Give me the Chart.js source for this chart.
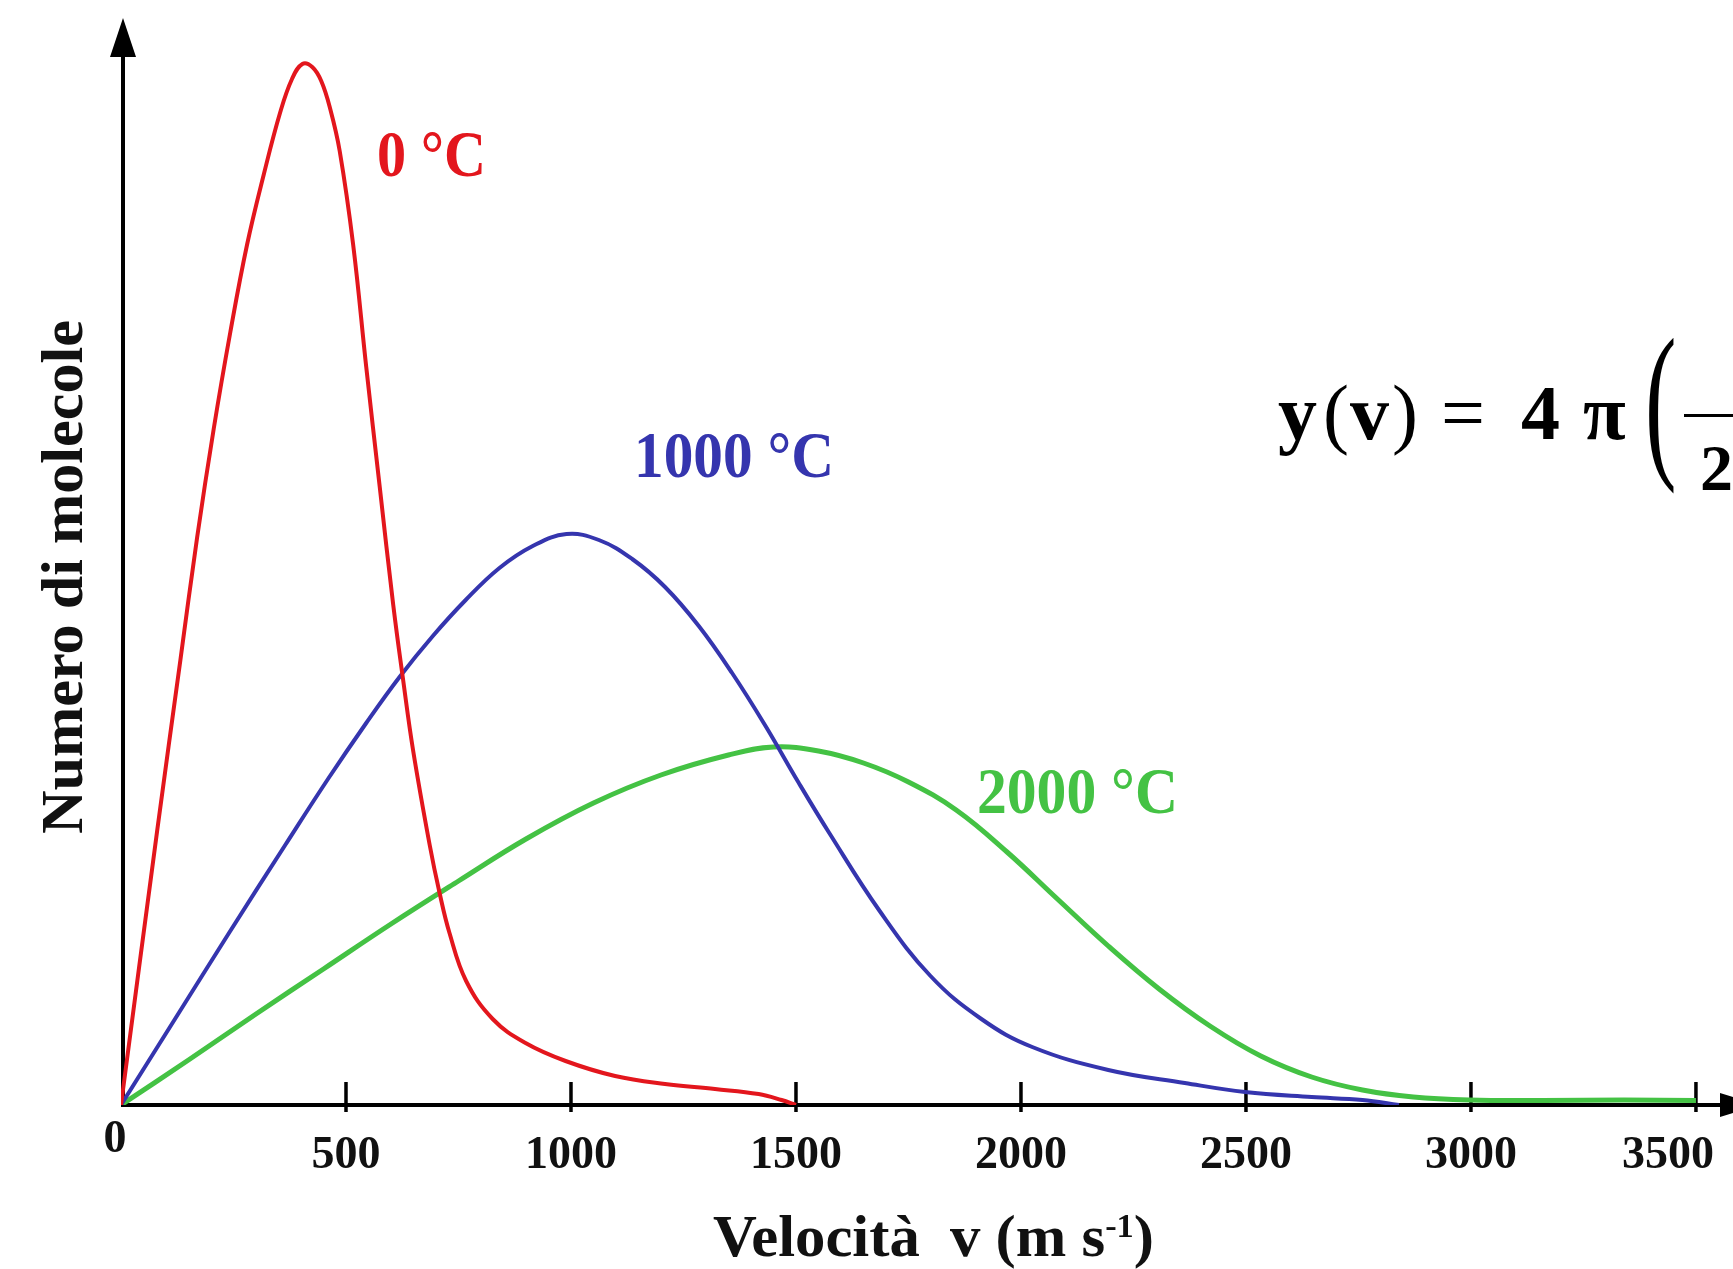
<!DOCTYPE html>
<html>
<head>
<meta charset="utf-8">
<script src="https://cdn.jsdelivr.net/npm/chart.js@4/dist/chart.umd.min.js"></script>
<style>
  html, body { margin: 0; padding: 0; background: #fff; }
  canvas { display: block; }
</style>
</head>
<body>
<canvas id="myChart" width="1733" height="1269"></canvas>
<script>
// x axis ticks (m/s)
const tickValues = [0, 500, 1000, 1500, 2000, 2500, 3000, 3500];
const tickLabels = ['0', '500', '1000', '1500', '2000', '2500', '3000', '3500'];

// curve labels
const seriesLabels = ['0 °C', '1000 °C', '2000 °C'];

// 0 °C  (speed, number of molecules - arbitrary units)
const redSpeed = [0, 80, 132, 169, 206, 243, 280, 317, 354, 380, 403, 425, 445, 465, 486, 516, 545, 575, 605, 627, 649, 686, 708, 730, 767, 826, 899, 988, 1098, 1209, 1320, 1417, 1468, 1500];
const redCount = [0, 27.3, 44.5, 56.7, 67.6, 77.3, 86.0, 93.0, 99.3, 102.6, 104.1, 103.8, 102.4, 99.6, 95.4, 86.0, 73.8, 61.8, 50.0, 42.5, 35.5, 26.0, 21.2, 17.2, 12.4, 8.6, 6.2, 4.4, 2.9, 2.1, 1.6, 1.1, 0.5, 0];

// 1000 °C
const blueSpeed = [0, 120, 240, 365, 460, 545, 619, 693, 766, 841, 915, 990, 1062, 1136, 1209, 1284, 1358, 1431, 1505, 1574, 1686, 1799, 1912, 2025, 2194, 2364, 2498, 2646, 2759, 2840];
const blueCount = [0, 8.6, 17.2, 26.0, 32.6, 38.2, 42.8, 46.9, 50.5, 53.7, 55.9, 57.1, 56.5, 54.6, 51.8, 47.9, 43.2, 38.0, 32.3, 27.2, 19.4, 12.9, 8.6, 5.8, 3.5, 2.2, 1.3, 0.8, 0.5, 0];

// 2000 °C
const greenSpeed = [0, 150, 300, 450, 600, 750, 900, 1050, 1200, 1350, 1450, 1550, 1650, 1750, 1856, 1969, 2081, 2194, 2307, 2420, 2533, 2646, 2759, 2872, 2996, 3160, 3340, 3500];
const greenCount = [0, 4.5, 9.1, 13.6, 18.1, 22.4, 26.6, 30.2, 33.0, 35.0, 35.8, 35.4, 34.2, 32.3, 29.5, 25.3, 20.6, 15.9, 11.6, 7.9, 4.9, 2.8, 1.5, 0.8, 0.5, 0.45, 0.5, 0.45];

const RED = '#e3161d';
const BLUE = '#3535ae';
const GREEN = '#44c244';
const SERIF = '"Liberation Serif", "Times New Roman", serif';

function toPoints(xs, ys) {
  return xs.map((x, i) => ({ x: x, y: ys[i] }));
}

// draw text squeezed/stretched to a given width
function fitText(ctx, text, x, y, width, font, align) {
  ctx.font = font;
  const w = ctx.measureText(text).width;
  ctx.save();
  ctx.translate(x, y);
  ctx.scale(width / w, 1);
  ctx.textAlign = align || 'left';
  ctx.fillText(text, 0, 0);
  ctx.restore();
}

const axesPlugin = {
  id: 'axes',
  beforeDatasetsDraw(chart) {
    const { ctx, scales: { x, y } } = chart;
    const ox = x.getPixelForValue(0) + 2;
    const oy = y.getPixelForValue(0);
    ctx.save();
    ctx.strokeStyle = '#000';
    ctx.fillStyle = '#000';
    ctx.lineWidth = 4;
    ctx.beginPath();
    ctx.moveTo(ox - 2, oy);
    ctx.lineTo(1722, oy);
    ctx.moveTo(ox, oy + 2);
    ctx.lineTo(ox, 55);
    ctx.stroke();
    // arrow heads
    ctx.beginPath();
    ctx.moveTo(ox - 13, 57);
    ctx.lineTo(ox, 18);
    ctx.lineTo(ox + 13, 57);
    ctx.closePath();
    ctx.fill();
    ctx.beginPath();
    ctx.moveTo(1720, oy - 12);
    ctx.lineTo(1760, oy);
    ctx.lineTo(1720, oy + 12);
    ctx.closePath();
    ctx.fill();
    // tick marks
    ctx.lineWidth = 3.5;
    ctx.beginPath();
    tickValues.forEach(v => {
      if (v === 0) return;
      const px = x.getPixelForValue(v);
      ctx.moveTo(px, oy - 23);
      ctx.lineTo(px, oy + 7);
    });
    ctx.stroke();
    ctx.restore();
  },
  afterDraw(chart) {
    const { ctx, scales: { x, y } } = chart;
    const oy = y.getPixelForValue(0);
    ctx.save();
    ctx.fillStyle = '#111';
    ctx.textBaseline = 'alphabetic';

    // tick labels
    ctx.font = 'bold 46px ' + SERIF;
    ctx.textAlign = 'center';
    tickValues.forEach((v, i) => {
      const px = x.getPixelForValue(v);
      if (v === 0) ctx.fillText(tickLabels[i], px - 6, oy + 47);
      else ctx.fillText(tickLabels[i], Math.min(px, 1668), oy + 63);
    });

    // x title with superscript
    const mainFont = 'bold 60px ' + SERIF;
    const supFont = 'bold 34px ' + SERIF;
    const parts = [
      { t: 'Velocità  v (m s', f: mainFont, dy: 0 },
      { t: '-1', f: supFont, dy: -19 },
      { t: ')', f: mainFont, dy: 0 }
    ];
    let total = 0;
    parts.forEach(p => { ctx.font = p.f; p.w = ctx.measureText(p.t).width; total += p.w; });
    ctx.save();
    ctx.translate(713, 1256);
    ctx.scale(441 / total, 1);
    ctx.textAlign = 'left';
    let cx = 0;
    parts.forEach(p => { ctx.font = p.f; ctx.fillText(p.t, cx, p.dy); cx += p.w; });
    ctx.restore();

    // y title
    ctx.save();
    ctx.translate(82, 577);
    ctx.rotate(-Math.PI / 2);
    fitText(ctx, 'Numero di molecole', 0, 0, 514, 'bold 60px ' + SERIF, 'center');
    ctx.restore();

    // curve labels
    const labelFont = 'bold 66px ' + SERIF;
    ctx.fillStyle = RED;
    fitText(ctx, seriesLabels[0], 377, 176, 109, labelFont);
    ctx.fillStyle = BLUE;
    fitText(ctx, seriesLabels[1], 634, 477, 200, labelFont);
    ctx.fillStyle = GREEN;
    fitText(ctx, seriesLabels[2], 977, 813, 201, labelFont);

    // formula (cut by the right edge)
    ctx.fillStyle = '#000';
    ctx.textAlign = 'left';
    const bold = 'bold 78px ' + SERIF;
    const thin = '78px ' + SERIF;
    [['y', 1278, bold], ['(', 1323, thin], ['v', 1350, bold], [')', 1392, thin],
     ['=', 1441, thin], ['4', 1521, bold], ['π', 1583, bold]].forEach(g => {
      ctx.font = g[2];
      ctx.fillText(g[0], g[1], 439);
    });
    ctx.save();
    ctx.translate(1645, 457);
    ctx.scale(0.55, 1);
    ctx.font = '172px ' + SERIF;
    ctx.fillText('(', 0, 0);
    ctx.restore();
    ctx.lineWidth = 3;
    ctx.beginPath();
    ctx.moveTo(1684, 415.5);
    ctx.lineTo(1733, 415.5);
    ctx.stroke();
    ctx.font = 'bold 66px ' + SERIF;
    ctx.fillText('2', 1700, 490);
    ctx.restore();
  }
};

const ctx = document.getElementById('myChart').getContext('2d');
new Chart(ctx, {
  type: 'line',
  data: {
    datasets: [
      { label: seriesLabels[0], data: toPoints(redSpeed, redCount), borderColor: RED },
      { label: seriesLabels[1], data: toPoints(blueSpeed, blueCount), borderColor: BLUE },
      { label: seriesLabels[2], data: toPoints(greenSpeed, greenCount), borderColor: GREEN, borderWidth: 5 }
    ]
  },
  options: {
    responsive: false,
    animation: false,
    events: [],
    elements: {
      point: { radius: 0 },
      line: { borderWidth: 4, fill: false, tension: 0.4 }
    },
    layout: { padding: { left: 121, right: 6, top: 20, bottom: 164 } },
    plugins: { legend: { display: false }, tooltip: { enabled: false } },
    scales: {
      x: { type: 'linear', min: 0, max: 3569, display: false },
      y: { type: 'linear', min: 0, max: 108.5, display: false }
    }
  },
  plugins: [axesPlugin]
});
</script>
</body>
</html>
